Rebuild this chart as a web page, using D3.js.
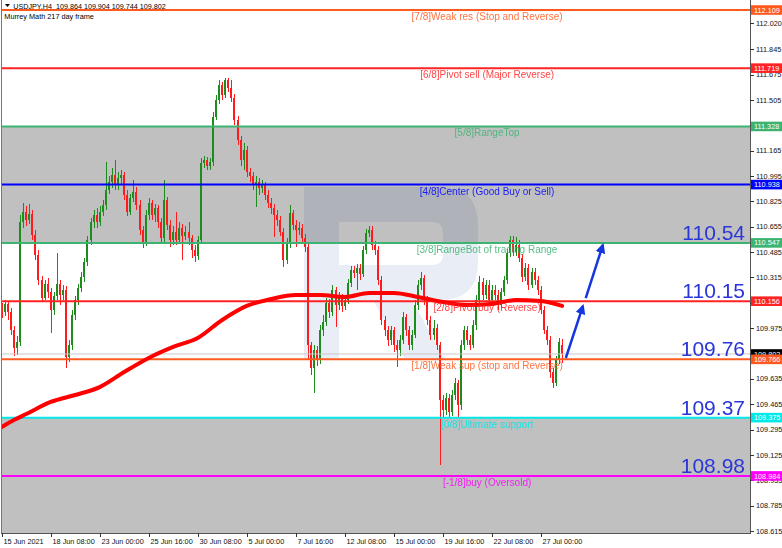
<!DOCTYPE html>
<html><head><meta charset="utf-8">
<script src="https://cdn.jsdelivr.net/npm/d3@7"></script>
<style>
html,body{margin:0;padding:0;background:#fff;}
svg{display:block;font-family:"Liberation Sans",Arial,sans-serif;}
</style></head>
<body><svg id="c" width="782" height="548"></svg>
<script>
// ---------------- data ----------------
const opens=[110.117,110.083,110.137,110.083,109.963,109.842,109.882,110.687,110.754,110.700,
110.741,110.600,110.466,110.298,110.177,110.271,110.218,110.097,110.191,110.271,
110.198,110.231,109.782,109.862,110.063,110.164,110.244,110.318,110.419,110.566,
110.687,110.734,110.687,110.754,110.801,110.902,110.955,111.002,110.935,110.982,
111.002,110.868,110.754,110.848,110.888,110.801,110.633,110.546,110.734,110.815,
110.734,110.781,110.687,110.580,110.835,110.667,110.566,110.620,110.566,110.647,
110.593,110.620,110.580,110.499,110.459,110.566,111.083,111.103,111.063,111.090,
111.391,111.505,111.606,111.539,111.639,111.586,111.519,111.371,111.237,111.103,
111.170,111.022,110.996,110.935,110.955,110.915,110.935,110.868,110.815,110.781,
110.734,110.700,110.620,110.432,110.546,110.747,110.667,110.633,110.647,110.580,
110.519,109.862,109.708,109.829,109.762,109.963,110.016,110.144,110.083,110.231,
110.130,110.177,110.124,110.164,110.278,110.365,110.345,110.379,110.338,110.499,
110.613,110.633,110.533,110.499,110.298,110.030,109.963,109.896,109.963,109.862,
109.829,109.896,110.050,109.963,109.862,109.929,110.130,110.265,110.312,110.164,
110.030,109.929,109.976,109.862,109.493,109.426,109.507,109.413,109.527,109.607,
109.460,109.862,109.963,109.896,109.862,109.996,110.164,110.285,110.198,110.265,
110.164,110.231,110.198,110.130,110.218,110.298,110.479,110.566,110.486,110.533,
110.446,110.318,110.379,110.265,110.352,110.298,110.231,110.097,109.963,109.896,
109.681,109.607,109.762,109.864];
const highs=[110.144,110.164,110.151,110.110,109.990,109.923,110.734,110.815,110.794,110.808,
110.768,110.633,110.499,110.325,110.298,110.312,110.244,110.218,110.479,110.298,
110.265,110.258,109.896,110.097,110.191,110.271,110.352,110.446,110.593,110.714,
110.768,110.781,110.794,110.835,111.090,110.996,111.049,111.103,111.022,111.036,
111.022,110.902,110.875,110.969,110.922,110.835,110.660,110.768,110.848,110.835,
110.808,110.801,110.714,110.969,110.855,110.700,110.660,110.754,110.687,110.674,
110.660,110.687,110.600,110.533,110.593,111.116,111.130,111.123,111.116,111.425,
111.539,111.639,111.626,111.653,111.653,111.639,111.546,111.398,111.264,111.217,
111.197,111.049,111.022,110.996,110.982,110.969,110.955,110.902,110.848,110.808,
110.768,110.727,110.647,110.580,110.801,110.768,110.700,110.687,110.674,110.607,
110.540,109.882,109.862,109.855,109.996,110.063,110.177,110.171,110.265,110.251,
110.218,110.204,110.191,110.305,110.392,110.392,110.405,110.405,110.526,110.640,
110.660,110.660,110.560,110.526,110.325,110.057,109.990,109.990,109.983,109.896,
109.929,110.083,110.070,109.990,109.963,110.164,110.298,110.352,110.332,110.191,
110.057,110.030,110.003,109.882,109.527,109.540,109.534,109.560,109.641,109.627,
109.896,109.990,109.990,109.929,110.030,110.198,110.325,110.312,110.298,110.298,
110.265,110.265,110.231,110.244,110.325,110.506,110.593,110.593,110.586,110.566,
110.472,110.412,110.405,110.379,110.379,110.325,110.258,110.124,109.990,109.923,
109.708,109.788,109.909,109.904];
const lows=[110.043,110.057,110.030,109.929,109.788,109.795,109.855,110.647,110.660,110.674,
110.566,110.432,110.265,110.151,110.164,110.177,109.943,110.063,110.164,110.130,
110.164,109.708,109.748,109.829,110.030,110.130,110.218,110.285,110.392,110.533,
110.647,110.647,110.660,110.727,110.768,110.875,110.915,110.902,110.902,110.942,
110.835,110.727,110.734,110.821,110.768,110.600,110.513,110.526,110.700,110.700,
110.687,110.647,110.553,110.553,110.633,110.519,110.533,110.533,110.540,110.432,
110.566,110.533,110.446,110.419,110.432,110.540,111.049,111.036,111.036,111.063,
111.371,111.479,111.505,111.519,111.559,111.492,111.338,111.204,111.063,111.036,
110.989,110.955,110.902,110.788,110.868,110.882,110.835,110.781,110.741,110.586,
110.660,110.593,110.385,110.405,110.513,110.633,110.519,110.600,110.546,110.486,
109.762,109.661,109.540,109.721,109.735,109.923,109.990,110.043,110.057,109.983,
110.097,110.083,110.097,110.137,110.251,110.312,110.231,110.298,110.318,110.472,
110.586,110.499,110.466,110.265,109.996,109.923,109.855,109.862,109.815,109.715,
109.788,109.869,109.923,109.829,109.829,109.909,110.097,110.231,110.130,109.996,
109.896,109.896,109.829,109.057,109.373,109.393,109.373,109.386,109.493,109.373,
109.426,109.829,109.862,109.829,109.842,109.963,110.130,110.164,110.171,110.124,
110.137,110.164,110.097,110.110,110.191,110.271,110.452,110.459,110.459,110.419,
110.285,110.291,110.231,110.244,110.265,110.198,110.070,109.936,109.862,109.641,
109.574,109.587,109.735,109.744];
const closes=[110.083,110.137,110.083,109.963,109.842,109.882,110.687,110.754,110.700,110.741,
110.600,110.466,110.298,110.177,110.271,110.218,110.097,110.191,110.271,110.198,
110.231,109.782,109.862,110.063,110.164,110.244,110.318,110.419,110.566,110.687,
110.734,110.687,110.754,110.801,110.902,110.955,111.002,110.935,110.982,111.002,
110.868,110.754,110.848,110.888,110.801,110.633,110.546,110.734,110.815,110.734,
110.781,110.687,110.580,110.835,110.667,110.566,110.620,110.566,110.647,110.593,
110.620,110.580,110.499,110.459,110.566,111.083,111.103,111.063,111.090,111.391,
111.505,111.606,111.539,111.639,111.586,111.519,111.371,111.237,111.103,111.170,
111.022,110.996,110.935,110.955,110.915,110.935,110.868,110.815,110.781,110.734,
110.700,110.620,110.432,110.546,110.747,110.667,110.633,110.647,110.580,110.519,
109.862,109.708,109.829,109.762,109.963,110.016,110.144,110.083,110.231,110.130,
110.177,110.124,110.164,110.278,110.365,110.345,110.379,110.338,110.499,110.613,
110.633,110.533,110.499,110.298,110.030,109.963,109.896,109.963,109.862,109.829,
109.896,110.050,109.963,109.862,109.929,110.130,110.265,110.312,110.164,110.030,
109.929,109.976,109.862,109.493,109.426,109.507,109.413,109.527,109.607,109.460,
109.862,109.963,109.896,109.862,109.996,110.164,110.285,110.198,110.265,110.164,
110.231,110.198,110.130,110.218,110.298,110.479,110.566,110.486,110.533,110.446,
110.318,110.379,110.265,110.352,110.298,110.231,110.097,109.963,109.896,109.681,
109.607,109.762,109.882,109.802];

// moving average (read every 8 bars)
const maIndex=[0,4,8,16,24,32,40,48,56,64,72,80,88,96,104,112,120,128,136,144,152,160,168,176,183];
const maValues=[109.312,109.359,109.399,109.480,109.527,109.580,109.681,109.775,109.849,109.909,110.030,110.124,110.171,110.198,110.198,110.184,110.211,110.211,110.184,110.151,110.130,110.137,110.164,110.157,110.124];

// Murrey levels
const levelValues=[112.109,111.719,111.328,110.938,110.547,110.156,109.766,109.375,108.984];
const levelNames=["[7/8]Weak res (Stop and Reverse)","[6/8]Pivot sell (Major Reverse)","[5/8]RangeTop","[4/8]Center (Good Buy or Sell)","[3/8]RangeBot of trading Range","[2/8]Pivot buy (Reverse)","[1/8]Weak sup (stop and Reverse)","[0/8]Ultimate support","[-1/8]buy (Oversold)"];
const levelColors=["#ff5a1e","#ff2323","#3cb371","#0000ff","#3cb371","#ff2323","#ff5a1e","#00e8e8","#ff00ff"];
const bigLabelValues=[110.547,110.156,109.766,109.375,108.984];
const bigLabelTexts=["110.54","110.15","109.76","109.37","108.98"];

// axes
const priceTicks=[112.020,111.845,111.675,111.505,111.335,111.165,110.995,110.825,110.655,110.485,110.315,110.145,109.975,109.805,109.635,109.465,109.295,109.125,108.955,108.785,108.615];
const timeTickIndex=[0,16,32,48,64,80,96,112,128,144,160,176];
const timeTickLabels=["15 Jun 2021","18 Jun 08:00","23 Jun 00:00","25 Jun 16:00","30 Jun 08:00","5 Jul 00:00","7 Jul 16:00","12 Jul 08:00","15 Jul 00:00","19 Jul 16:00","22 Jul 08:00","27 Jul 00:00"];
const lastPrice=109.802;
const headerText="USDJPY.H4  109.864 109.904 109.744 109.802";
const subText="Murrey Math 217 day frame";
// forecast arrows [fromIndex, fromPrice, toIndex, toPrice]
const arrows=[[184.2,109.775,189.8,110.124],[190.7,110.177,196.3,110.533]];

// ---------------- drawing ----------------
const W=782,H=548, L=2, R=750, T=0, B=533;
const svg=d3.select("#c");
const x=d3.scaleLinear().domain([0,16]).range([1.7,50.7]);
const y=d3.scaleLinear().domain([108.615,112.109]).range([530.95,10]);

svg.append("rect").attr("width",W).attr("height",H).attr("fill","#fff");
const defs=svg.append("defs");
defs.append("clipPath").attr("id","plot").append("rect").attr("x",L).attr("y",T).attr("width",R-L).attr("height",B-T);
defs.append("marker").attr("id","ah").attr("viewBox","0 0 10 10").attr("refX",8).attr("refY",5)
  .attr("markerWidth",4).attr("markerHeight",4).attr("orient","auto")
  .append("path").attr("d","M0,0 L10,5 L0,10 z").attr("fill","#1436e0");

const g=svg.append("g").attr("clip-path","url(#plot)");
// grey zones
g.append("rect").attr("x",L).attr("width",R-L).attr("y",y(levelValues[2])).attr("height",y(levelValues[4])-y(levelValues[2])).attr("fill","#c0c0c0");
g.append("rect").attr("x",L).attr("width",R-L).attr("y",y(levelValues[7])).attr("height",B-y(levelValues[7])).attr("fill","#c0c0c0");

// faint watermark logo (decorative)
const wm=g.append("g").style("mix-blend-mode","multiply").attr("fill","#e9edf5");
wm.append("path").attr("d","M304,187 H440 Q478,187 478,225 V262 Q478,300 440,300 H339 V360 H304 Z M339,222 V265 H432 Q443,265 443,254 V233 Q443,222 432,222 Z").attr("fill-rule","evenodd");
wm.append("path").attr("d","M373,300 H412 L445,360 H405 Z");

// candles
const idx=d3.range(closes.length);
const cg=g.append("g").attr("shape-rendering","crispEdges");
idx.forEach(i=>{
  const up=closes[i]>=opens[i];
  const col=up?"#1d8c1d":"#ff1b1b";
  const cx=Math.round(x(i));
  cg.append("rect").attr("x",cx).attr("width",1).attr("y",y(highs[i])).attr("height",Math.max(1,y(lows[i])-y(highs[i]))).attr("fill",col);
  const top=y(Math.max(opens[i],closes[i])), bot=y(Math.min(opens[i],closes[i]));
  cg.append("rect").attr("x",cx-1).attr("width",2).attr("y",top).attr("height",Math.max(1,bot-top)).attr("fill",col);
});

// current price line
g.append("line").attr("x1",L).attr("x2",R).attr("y1",y(lastPrice)).attr("y2",y(lastPrice)).attr("stroke","#c8c8c8").attr("stroke-width",1);
// level lines
levelValues.forEach((v,k)=>{
  g.append("line").attr("x1",L).attr("x2",R).attr("y1",y(v)).attr("y2",y(v)).attr("stroke",levelColors[k]).attr("stroke-width",2);
});
// moving average
g.append("path").datum(maIndex.map((d,k)=>[d,maValues[k]]))
  .attr("d",d3.line().x(d=>x(d[0])).y(d=>y(d[1])).curve(d3.curveMonotoneX))
  .attr("fill","none").attr("stroke","#ff0000").attr("stroke-width",4).attr("stroke-linecap","round");

// level labels
levelValues.forEach((v,k)=>{
  g.append("text").attr("x",x(158.5)).attr("y",y(v)+10).attr("text-anchor","middle")
   .attr("font-size",10).attr("fill",levelColors[k]).attr("opacity",0.85).text(levelNames[k]);
});
// big price labels
bigLabelValues.forEach((v,k)=>{
  g.append("text").attr("x",745).attr("y",y(v)-3).attr("text-anchor","end")
   .attr("font-size",21).attr("fill","#2a36d8").text(bigLabelTexts[k]);
});
// arrows
arrows.forEach(a=>{
  g.append("line").attr("x1",x(a[0])).attr("y1",y(a[1])).attr("x2",x(a[2])).attr("y2",y(a[3]))
   .attr("stroke","#1436e0").attr("stroke-width",2.5).attr("marker-end","url(#ah)");
});

// frame
svg.append("line").attr("x1",1.5).attr("x2",1.5).attr("y1",0).attr("y2",B).attr("stroke","#777");
svg.append("line").attr("x1",R+0.5).attr("x2",R+0.5).attr("y1",0).attr("y2",B+0.5).attr("stroke","#555");
svg.append("line").attr("x1",1).attr("x2",R+1).attr("y1",B+0.5).attr("y2",B+0.5).attr("stroke","#555");

// right axis
const fs=7.3;
priceTicks.forEach(v=>{
  svg.append("line").attr("x1",R).attr("x2",R+4).attr("y1",Math.round(y(v))+0.5).attr("y2",Math.round(y(v))+0.5).attr("stroke","#333");
  svg.append("text").attr("x",R+6).attr("y",y(v)+2.6).attr("font-size",fs).attr("fill","#111").text(v.toFixed(3));
});
function box(v,color){
  svg.append("rect").attr("x",R+1).attr("y",y(v)-4.8).attr("width",W-R-1).attr("height",9.6).attr("fill",color);
  svg.append("text").attr("x",R+4).attr("y",y(v)+2.6).attr("font-size",fs).attr("fill","#fff").text(v.toFixed(3));
}
box(lastPrice,"#000");
levelValues.forEach((v,k)=>box(v,levelColors[k]));

// bottom axis
timeTickIndex.forEach((t,k)=>{
  const tx=Math.round(x(t))+0.5;
  svg.append("line").attr("x1",tx).attr("x2",tx).attr("y1",B).attr("y2",B+4).attr("stroke","#333");
  svg.append("text").attr("x",tx+1).attr("y",B+10.5).attr("font-size",fs).attr("fill","#111").text(timeTickLabels[k]);
});

// header
svg.append("path").attr("d","M5,4 L10,4 L7.5,7 Z").attr("fill","#000");
svg.append("text").attr("x",13.3).attr("y",8.6).attr("font-size",7.2).attr("fill","#000").style("white-space","pre").attr("xml:space","preserve").text(headerText);
svg.append("text").attr("x",4.3).attr("y",19.3).attr("font-size",7.3).attr("fill","#000").text(subText);
</script></body></html>
